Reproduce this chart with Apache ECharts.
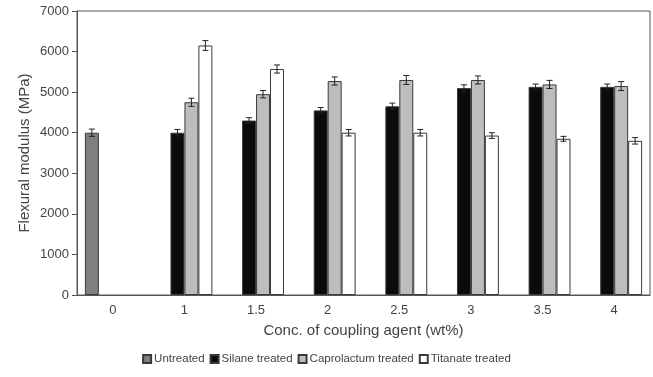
<!DOCTYPE html>
<html>
<head>
<meta charset="utf-8">
<script src="https://cdn.jsdelivr.net/npm/echarts@6/dist/echarts.min.js"></script>
<style>
  html, body { margin: 0; padding: 0; background: #fff; }
  #chart { width: 653px; height: 377px; }
</style>
</head>
<body>
<div id="chart"></div>
<script>
  const categories = ['0', '1', '1.5', '2', '2.5', '3', '3.5', '4']
  const seriesNames = ['Untreated', 'Silane treated', 'Caprolactum treated', 'Titanate treated']
  const untreated = [4000, null, null, null, null, null, null, null]
  const silane = [null, 4000, 4300, 4550, 4650, 5100, 5130, 5130]
  const caprolactam = [null, 4750, 4950, 5275, 5300, 5300, 5190, 5150]
  const titanate = [null, 6150, 5570, 4000, 4000, 3930, 3850, 3800]
  const untreatedErr = [90, 0, 0, 0, 0, 0, 0, 0]
  const silaneErr = [0, 80, 70, 70, 80, 80, 70, 70]
  const caprolactamErr = [0, 100, 90, 100, 110, 100, 100, 110]
  const titanateErr = [0, 120, 100, 80, 80, 70, 60, 80]

  const values = [untreated, silane, caprolactam, titanate]
  const errors = [untreatedErr, silaneErr, caprolactamErr, titanateErr]
  const fills = ['#7f7f7f', '#0b0b0b', '#bdbdbd', '#ffffff']
  const gapRatio = 0.22

  const chart = echarts.init(document.getElementById('chart'))

  const barSeries = values.map((v, i) => ({
    name: seriesNames[i],
    type: 'bar',
    data: v,
    barGap: 0,
    barCategoryGap: '22%',
    itemStyle: { color: fills[i], borderColor: '#3a3a3a', borderWidth: 1 },
    silent: true
  }))

  // error bars: [category index, value, error, series index]
  const errData = []
  values.forEach((v, s) => {
    v.forEach((val, c) => {
      if (val != null) errData.push([c, val, errors[s][c], s])
    })
  })

  const errSeries = {
    type: 'custom',
    silent: true,
    data: errData,
    z: 10,
    renderItem: function (params, api) {
      const c = api.value(0)
      const s = api.value(3)
      const bw = api.size([1, 0])[0]
      const barW = bw * (1 - gapRatio) / 4
      const center = api.coord([c, api.value(1)])
      const x = center[0] + (s - 1.5) * barW
      const hi = api.coord([c, api.value(1) + api.value(2)])[1]
      const lo = api.coord([c, api.value(1) - api.value(2)])[1]
      const st = { stroke: '#222', lineWidth: 1 }
      return {
        type: 'group',
        children: [
          { type: 'line', shape: { x1: x, y1: hi, x2: x, y2: lo }, style: st },
          { type: 'line', shape: { x1: x - 3, y1: hi, x2: x + 3, y2: hi }, style: st },
          { type: 'line', shape: { x1: x - 3, y1: lo, x2: x + 3, y2: lo }, style: st }
        ]
      }
    }
  }

  chart.setOption({
    animation: false,
    textStyle: { fontFamily: 'Liberation Sans, Arial, sans-serif' },
    grid: {
      left: 77, right: 3, top: 11, bottom: 82,
      show: true, borderColor: '#555', borderWidth: 1
    },
    legend: {
      bottom: 7,
      left: 'center',
      icon: 'rect',
      itemWidth: 8,
      itemHeight: 8,
      itemGap: 5,
      data: seriesNames,
      textStyle: { fontSize: 11.5, color: '#444', padding: [0, 0, 0, -2] }
    },
    xAxis: {
      type: 'category',
      data: categories,
      name: 'Conc. of coupling agent (wt%)',
      nameLocation: 'middle',
      nameGap: 28,
      nameTextStyle: { fontSize: 15, color: '#444' },
      axisLine: { lineStyle: { color: '#555' } },
      axisTick: { length: 4, lineStyle: { color: '#555' } },
      axisLabel: { fontSize: 13, color: '#444', margin: 9 }
    },
    yAxis: {
      type: 'value',
      min: 0,
      max: 7000,
      interval: 1000,
      name: 'Flexural modulus (MPa)',
      nameLocation: 'middle',
      nameGap: 45,
      nameMoveOverlap: false,
      nameTextStyle: { fontSize: 15, color: '#444' },
      splitLine: { show: false },
      axisLine: { show: true, lineStyle: { color: '#555' } },
      axisTick: { show: true, length: 5, lineStyle: { color: '#555' } },
      axisLabel: { fontSize: 13, color: '#444', margin: 8, formatter: v => String(v) }
    },
    series: [...barSeries, errSeries]
  })
</script>
</body>
</html>
